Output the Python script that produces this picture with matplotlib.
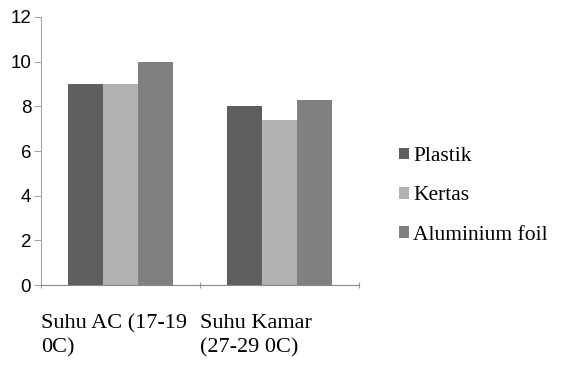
import numpy as np
import matplotlib.pyplot as plt

categories = ["Suhu AC (17-19\n0C)", "Suhu Kamar\n(27-29 0C)"]
series_names = ["Plastik", "Kertas", "Aluminium foil"]
plastik = [9.0, 8.0]
kertas = [9.0, 7.4]
aluminium = [10.0, 8.3]
values = [plastik, kertas, aluminium]
colors = ["#5e5e5e", "#b2b2b2", "#808080"]

fig = plt.figure(figsize=(5.61, 3.67), dpi=100)
ax = fig.add_axes([0.073, 0.2234, 0.567, 0.7303])

x = np.arange(len(categories))
w = 0.22
for i, (name, vals) in enumerate(zip(series_names, values)):
    ax.bar(x + (i - 1) * w, vals, w, color=colors[i], label=name)

ax.set_xlim(-0.5, 1.5)
ax.set_ylim(0, 12)
ax.set_yticks(range(0, 13, 2))
ax.set_yticklabels([str(v) for v in range(0, 13, 2)], fontsize=13.5, family="Liberation Sans")

ax.set_xticks([-0.5, 0.5, 1.5])
ax.set_xticklabels(categories + [""], ha="left", fontsize=16,
                   family="Liberation Serif", linespacing=1.35)
ax.tick_params(axis="x", length=4, direction="inout", colors="#999999", labelcolor="black", pad=19)
ax.tick_params(axis="y", length=5, colors="#9aa6b8", labelcolor="black", pad=2)

for s in ["top", "right"]:
    ax.spines[s].set_visible(False)
ax.spines["left"].set_color("#9aa6b8")
ax.spines["bottom"].set_color("#888888")

# legend sits to the right of the axes, no frame
fig.legend(loc="center left", bbox_to_anchor=(0.692, 0.466), frameon=False,
           prop={"family": "Liberation Serif", "size": 15.5}, borderpad=0,
           handlelength=0.45, handleheight=0.45, handletextpad=0.2, labelspacing=0.95)

fig.savefig("out.png", dpi=100)
